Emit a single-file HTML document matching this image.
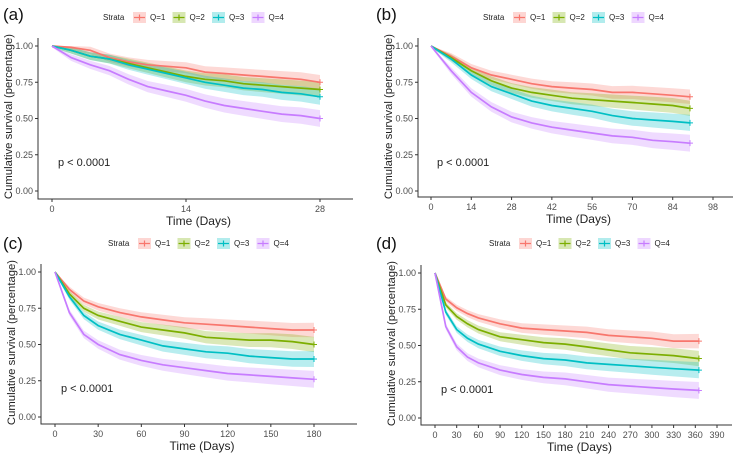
<!DOCTYPE html>
<html><head><meta charset="utf-8"><style>
body{margin:0;background:#fff}
svg{display:block;font-family:"Liberation Sans",sans-serif}
</style></head><body>
<svg id="c" width="742" height="458" viewBox="0 0 742 458"></svg>
<script>
const colors=["#F8766D","#7CAE00","#00BFC4","#C77CFF"];
const strataLabels=["Q=1","Q=2","Q=3","Q=4"];
const yTicks=[0,0.25,0.5,0.75,1];
const yTickLabels=["0.00","0.25","0.50","0.75","1.00"];
// panel a
const timesA=[0,2,4,6,8,10,12,14,16,18,20,22,24,26,28];
const a1=[1,.99,.97,.92,.89,.87,.86,.85,.82,.81,.80,.79,.78,.77,.75];
const a2=[1,.97,.93,.91,.88,.85,.82,.79,.77,.76,.74,.73,.72,.71,.70];
const a3=[1,.97,.93,.91,.87,.84,.81,.78,.75,.73,.71,.70,.68,.67,.65];
const a4=[1,.92,.87,.83,.77,.72,.69,.66,.62,.59,.57,.55,.53,.52,.50];
const xTicksA=[0,14,28];
// panel b
const timesB=[0,7,14,21,28,35,42,49,56,63,70,77,84,90];
const b1=[1,.93,.85,.80,.77,.74,.72,.71,.70,.68,.68,.67,.66,.65];
const b2=[1,.92,.83,.76,.71,.68,.66,.64,.63,.62,.61,.60,.59,.57];
const b3=[1,.91,.80,.72,.67,.62,.59,.57,.55,.52,.50,.49,.48,.47];
const b4=[1,.83,.68,.58,.51,.47,.44,.42,.40,.38,.37,.35,.34,.33];
const xTicksB=[0,14,28,42,56,70,84,98];
// panel c
const timesC=[0,10,20,30,45,60,75,90,105,120,135,150,165,180];
const c1=[1,.88,.80,.76,.72,.69,.67,.65,.64,.63,.62,.61,.60,.60];
const c2=[1,.85,.75,.70,.66,.62,.60,.58,.55,.54,.53,.53,.52,.50];
const c3=[1,.83,.70,.63,.57,.53,.49,.47,.45,.44,.42,.41,.40,.40];
const c4=[1,.72,.57,.50,.43,.39,.36,.34,.32,.30,.29,.28,.27,.26];
const xTicksC=[0,30,60,90,120,150,180];
// panel d
const timesD=[0,15,30,45,60,90,120,150,180,210,240,270,300,330,365];
const d1=[1,.82,.76,.72,.69,.65,.62,.61,.60,.59,.57,.56,.55,.53,.53];
const d2=[1,.78,.70,.65,.61,.56,.54,.52,.51,.49,.47,.45,.44,.43,.41];
const d3=[1,.73,.61,.55,.51,.46,.43,.41,.40,.38,.37,.36,.35,.34,.33];
const d4=[1,.63,.49,.42,.38,.33,.30,.28,.27,.25,.23,.22,.21,.20,.19];
const xTicksD=[0,30,60,90,120,150,180,210,240,270,300,330,360,390];

const panels=[
 {id:"a",times:timesA,series:[a1,a2,a3,a4],ticks:xTicksA,tx0:0,tx1:28,px0:52,px1:320,ax:38,y1:46,y0:191,bot:199,right:353,legX:103,legY:17,labX:3,labY:20},
 {id:"b",times:timesB,series:[b1,b2,b3,b4],ticks:xTicksB,tx0:0,tx1:98,px0:431,px1:713,ax:418,y1:46,y0:191,bot:197,right:733,legX:483,legY:17,labX:376,labY:20},
 {id:"c",times:timesC,series:[c1,c2,c3,c4],ticks:xTicksC,tx0:0,tx1:180,px0:55,px1:314,ax:41,y1:272,y0:417,bot:424,right:357,legX:108,legY:243,labX:3,labY:249},
 {id:"d",times:timesD,series:[d1,d2,d3,d4],ticks:xTicksD,tx0:0,tx1:390,px0:435,px1:717,ax:421,y1:273,y0:418,bot:425,right:732,legX:489,legY:243,labX:376,labY:249}
];
const NS="http://www.w3.org/2000/svg";
const svg=document.getElementById("c");
function mk(tag,attrs,parent,text){const e=document.createElementNS(NS,tag);for(const k in attrs)e.setAttribute(k,attrs[k]);if(text!==undefined)e.textContent=text;parent.appendChild(e);return e;}
panels.forEach(p=>{
 const g=mk("g",{},svg);
 
 
 const X=t=>p.px0+(t-p.tx0)/(p.tx1-p.tx0)*(p.px1-p.px0);
 const Y=v=>p.y0-(v)*(p.y0-p.y1);
 const tmax=p.times[p.times.length-1];
 p.series.forEach((s,i)=>{
  const up=[],lo=[];
  p.times.forEach((t,k)=>{const ci=0.01+0.04*Math.sqrt(t/tmax)*(1+0.2*i/3);up.push(X(t).toFixed(1)+","+Y(Math.min(1,s[k]+ci)).toFixed(1));lo.unshift(X(t).toFixed(1)+","+Y(s[k]-ci).toFixed(1));});
  const b=mk("polygon",{points:up.concat(lo).join(" "),fill:colors[i],"fill-opacity":0.28,stroke:"none"},g);
  
  
 });
 p.series.forEach((s,i)=>{
  const pts=p.times.map((t,k)=>X(t).toFixed(1)+","+Y(s[k]).toFixed(1)).join(" ");
  const l=mk("polyline",{points:pts,fill:"none",stroke:colors[i],"stroke-width":1.7},g);
  
  
  const ex=X(tmax),ey=Y(s[s.length-1]);
  mk("path",{d:`M${ex-3},${ey}h6M${ex},${ey-3}v6`,stroke:colors[i],"stroke-width":1},g);
 });
 const ax=mk("path",{d:`M${p.ax},${p.y1-8}V${p.bot}H${p.right}`,fill:"none",stroke:"#333","stroke-width":1},g);
 
 
 yTicks.forEach((v,k)=>{
  mk("line",{x1:p.ax-3,x2:p.ax,y1:Y(v),y2:Y(v),stroke:"#333"},g);
  const t=mk("text",{x:p.ax-5,y:Y(v)+3,"font-size":9,"text-anchor":"end",fill:"#4d4d4d"},g,yTickLabels[k]);
  
  
 });
 p.ticks.forEach(v=>{
  mk("line",{x1:X(v),x2:X(v),y1:p.bot,y2:p.bot+3,stroke:"#333"},g);
  const t=mk("text",{x:X(v),y:p.bot+13,"font-size":9,"text-anchor":"middle",fill:"#4d4d4d"},g,String(v));
  
  
 });
 const cx=(p.ax+p.right)/2+3;
 const xt=mk("text",{x:cx,y:p.bot+26,"font-size":12,"text-anchor":"middle",fill:"#222"},g,"Time (Days)");
 
 
 const cy=(p.y1+p.y0)/2;
 const yt=mk("text",{x:0,y:0,"font-size":11.3,"text-anchor":"middle",fill:"#222",transform:`translate(${p.ax-26},${cy-2}) rotate(-90)`},g,"Cumulative survival (percentage)");
 
 
 const pv=mk("text",{x:p.px0+6,y:Y(0.2)+4,"font-size":11,fill:"#222"},g,"p < 0.0001");
 
 
 const lb=mk("text",{x:p.labX,y:p.labY,"font-size":17,fill:"#111"},g,"("+p.id+")");
 
 
 const lg=mk("g",{},g);
 
 
 mk("text",{x:p.legX,y:p.legY+3,"font-size":8,fill:"#222"},lg,"Strata");
 strataLabels.forEach((s,i)=>{
  const kx=p.legX+30+i*39.5;
  const e=mk("g",{},lg);
  
  
  mk("rect",{x:kx,y:p.legY-5,width:13,height:11,fill:colors[i],"fill-opacity":0.3},e);
  mk("path",{d:`M${kx+1},${p.legY+0.5}h11M${kx+6.5},${p.legY-2.5}v6`,stroke:colors[i],"stroke-width":1.2},e);
  mk("text",{x:kx+17,y:p.legY+3,"font-size":8,fill:"#222"},e,s);
 });
});
</script>
</body></html>
